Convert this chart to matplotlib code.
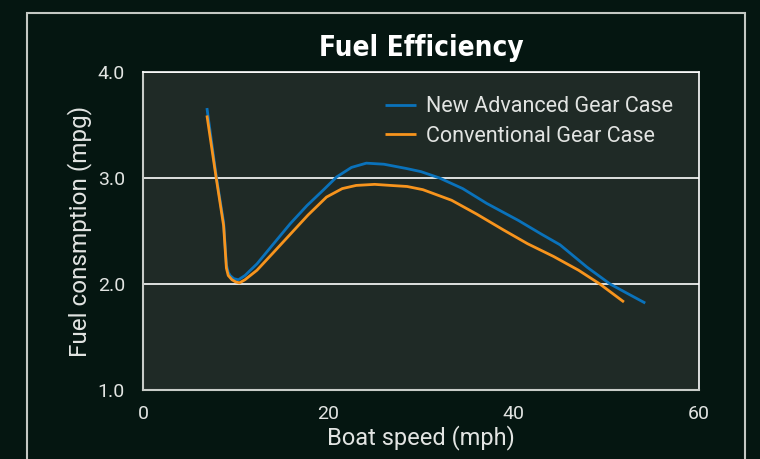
import matplotlib
matplotlib.use("Agg")
import matplotlib.pyplot as plt
from matplotlib.patches import Rectangle

# values
new_speed = [6.9, 7.9, 8.7, 9.0, 9.2, 9.4, 9.8, 10.3, 11.0, 12.3, 14.0, 15.9, 17.7, 19.5,
             20.9, 22.5, 24.1, 26.0, 28.4, 30.0, 32.0, 34.5, 37.1, 40.5, 43.0, 45.0,
             47.9, 50.4, 52.5, 54.2]
new_mpg = [3.66, 3.02, 2.58, 2.18, 2.11, 2.08, 2.05, 2.04, 2.08, 2.19, 2.37, 2.57, 2.74, 2.89,
           3.01, 3.10, 3.14, 3.13, 3.09, 3.06, 3.00, 2.90, 2.76, 2.60, 2.47, 2.37,
           2.16, 2.00, 1.90, 1.82]

conv_speed = [6.9, 7.9, 8.7, 9.0, 9.2, 9.6, 10.0, 10.4, 11.0, 12.3, 14.0, 15.9, 17.8, 19.8,
              21.5, 23.0, 25.0, 26.7, 28.5, 30.2, 33.3, 36.0, 38.9, 41.5, 44.3, 47.0,
              49.3, 51.9]
conv_mpg = [3.59, 3.00, 2.55, 2.15, 2.08, 2.04, 2.02, 2.01, 2.04, 2.13, 2.29, 2.47, 2.65, 2.82,
            2.90, 2.93, 2.94, 2.93, 2.92, 2.89, 2.79, 2.66, 2.51, 2.38, 2.26, 2.13,
            2.00, 1.83]

x_ticks = [0, 20, 40, 60]
y_ticks = [1.0, 2.0, 3.0, 4.0]

BG = "#051611"
PANEL = "#1f2a26"
TXT = "#e2e4e2"
BLUE = "#0a72bb"
ORANGE = "#f7941d"

textfont = ["Roboto", "DejaVu Sans"]

fig = plt.figure(figsize=(7.6, 4.59), dpi=100, facecolor=BG)
# outer frame
fig.patches.append(Rectangle((27 / 760, -0.05), (745 - 27) / 760, 1.05 - 13 / 459,
                             transform=fig.transFigure, fill=False,
                             edgecolor="#c4c8c4", linewidth=1.5))

ax = fig.add_axes([143 / 760, 1 - 390 / 459, (699 - 143) / 760, (390 - 72) / 459])
ax.set_facecolor(PANEL)

ax.plot(new_speed, new_mpg, color=BLUE, lw=2.0, label="New Advanced Gear Case",
        solid_capstyle="butt")
ax.plot(conv_speed, conv_mpg, color=ORANGE, lw=2.0, label="Conventional Gear Case",
        solid_capstyle="butt")

ax.set_xlim(0, 60)
ax.set_ylim(1.0, 4.0)
ax.set_xticks(x_ticks)
ax.set_yticks(y_ticks)
ax.set_yticklabels([f"{v:.1f}" for v in y_ticks])
ax.grid(axis="y", color="white", lw=1.2)
ax.set_axisbelow(True)
ax.tick_params(length=0, colors=TXT, labelsize=14)
ax.tick_params(axis="y", pad=13)
ax.tick_params(axis="x", pad=11)
for lab in ax.get_xticklabels() + ax.get_yticklabels():
    lab.set_family(textfont)

for side in ["left", "bottom"]:
    ax.spines[side].set_color("#c8ccc8")
    ax.spines[side].set_linewidth(1.5)
for side in ["top", "right"]:
    ax.spines[side].set_color("white")
    ax.spines[side].set_linewidth(1.2)

ax.set_xlabel("Boat speed (mph)", color=TXT, fontsize=17, family=textfont, labelpad=1)
ax.set_ylabel("Fuel consmption (mpg)", color=TXT, fontsize=17.5, family=textfont,
              labelpad=4)

fig.text(421 / 760, 1 - 48 / 459, "Fuel Efficiency", ha="center", va="center",
         color="white", fontsize=20, fontweight="bold", fontstretch="condensed",
         family=["DejaVu Sans"])

leg = ax.legend(loc="upper right", bbox_to_anchor=(0.988, 0.985), frameon=False,
                handlelength=1.45, handletextpad=0.45, labelspacing=0.4,
                prop={"family": textfont, "size": 15.5})
for t in leg.get_texts():
    t.set_color(TXT)

fig.savefig("out.png", dpi=100, facecolor=BG)
